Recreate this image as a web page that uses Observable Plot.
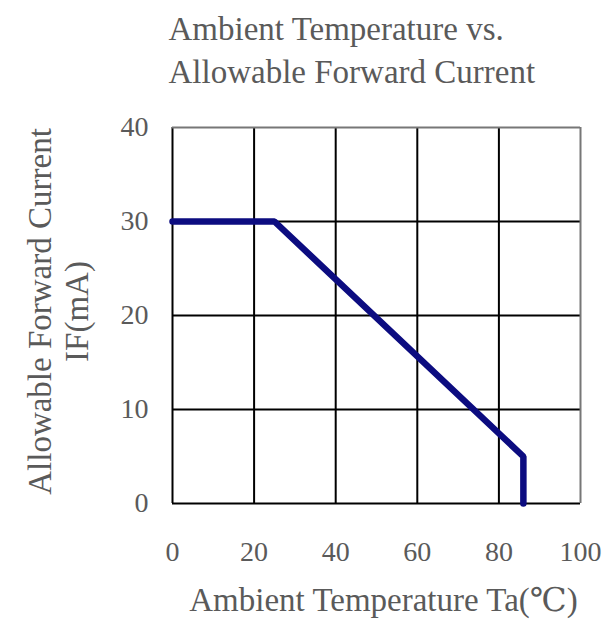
<!DOCTYPE html>
<html>
<head>
<meta charset="utf-8">
<script src="https://cdn.jsdelivr.net/npm/d3@7"></script>
<script src="https://cdn.jsdelivr.net/npm/@observablehq/plot@0.6"></script>
<style>
  html, body { margin: 0; padding: 0; background: #fff; }
</style>
</head>
<body>
<div id="chart"></div>
<script>
const temperature = [0, 25, 86, 86];
const current = [30, 30, 5, 0];
const xTicks = [0, 20, 40, 60, 80, 100];
const yTicks = [0, 10, 20, 30, 40];
const titleLines = ["Ambient Temperature vs.", "Allowable Forward Current"];
const yLabelLines = ["Allowable Forward Current", "IF(mA)"];
const xLabel = "Ambient Temperature Ta(\u2103)";

const curve = temperature.map((t, i) => ({t, c: current[i]}));
const textColor = "#5a5a5a";
const font = "'Liberation Serif', 'DejaVu Serif', serif";

const chart = Plot.plot({
  width: 607,
  height: 630,
  marginLeft: 172,
  marginRight: 27,
  marginTop: 127,
  marginBottom: 127,
  style: {fontFamily: font, background: "#fff", overflow: "visible"},
  x: {domain: [0, 100], ticks: xTicks},
  y: {domain: [0, 40], ticks: yTicks},
  marks: [
    Plot.ruleX(xTicks.slice(0, -1), {stroke: "#000", strokeWidth: 2}),
    Plot.ruleY(yTicks.slice(0, -1), {stroke: "#000", strokeWidth: 2}),
    Plot.ruleX([100], {stroke: "#777", strokeWidth: 2}),
    Plot.ruleY([40], {stroke: "#777", strokeWidth: 2}),
    Plot.axisX({ticks: xTicks, tickSize: 0, tickPadding: 38, fontSize: 28, color: textColor, label: null}),
    Plot.axisY({ticks: yTicks, tickSize: 0, tickPadding: 24, fontSize: 28, color: textColor, label: null}),
    Plot.line(curve, {x: "t", y: "c", stroke: "#0c0c80", strokeWidth: 6.5, strokeLinejoin: "miter"}),
    // titles
    Plot.text([titleLines[0]], {frameAnchor: "top-left", dx: -4, dy: -98, text: d => d, textAnchor: "start", lineAnchor: "middle", fontSize: 33, fill: textColor}),
    Plot.text([titleLines[1]], {frameAnchor: "top-left", dx: -4, dy: -55, text: d => d, textAnchor: "start", lineAnchor: "middle", fontSize: 33, fill: textColor}),
    // y label
    Plot.text([yLabelLines[0]], {frameAnchor: "left", dx: -132, dy: -4, rotate: -90, text: d => d, textAnchor: "middle", lineAnchor: "middle", fontSize: 33, fill: textColor}),
    Plot.text([yLabelLines[1]], {frameAnchor: "left", dx: -95, dy: -4, rotate: -90, text: d => d, textAnchor: "middle", lineAnchor: "middle", fontSize: 33, fill: textColor}),
    // x label
    Plot.text([xLabel], {frameAnchor: "bottom", dx: 7, dy: 97, text: d => d, textAnchor: "middle", lineAnchor: "middle", fontSize: 33, fill: textColor})
  ]
});
document.getElementById("chart").appendChild(chart);
</script>
</body>
</html>
